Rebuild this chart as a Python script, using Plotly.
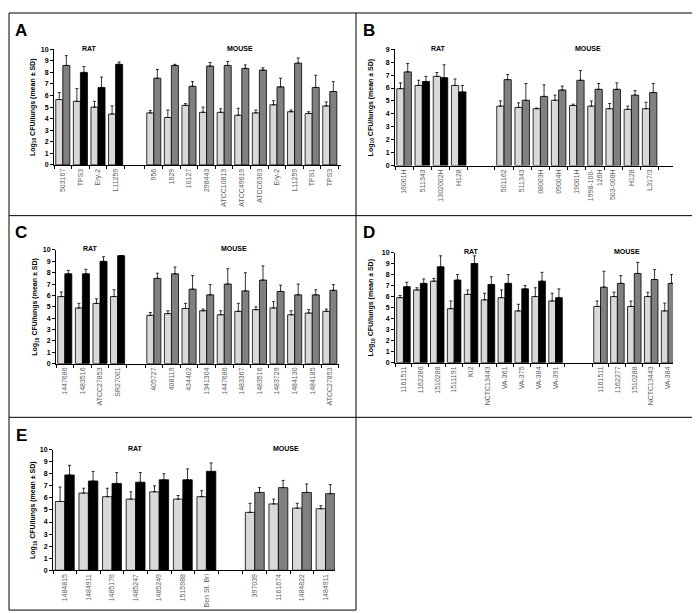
import plotly.graph_objects as go

W, H = 700, 613

# ---- panel A ----
a_rat_labels = ["503167", "TPS3", "Ery-2", "L11259"]
a_rat_light = [5.65, 5.5, 5.0, 4.4]
a_rat_light_sd = [0.6, 1.1, 0.5, 0.7]
a_rat_dark = [8.6, 8.0, 6.7, 8.7]
a_rat_dark_sd = [0.85, 0.5, 0.9, 0.2]
a_rat_dark_type = ["grey", "black", "black", "black"]
a_mouse_labels = ["956", "1629", "10127", "298443", "ATCC10813", "ATCC49619",
                  "ATCC6303", "Ery-2", "L11259", "TPS1", "TPS3"]
a_mouse_light = [4.5, 4.1, 5.15, 4.55, 4.55, 4.3, 4.5, 5.2, 4.6, 4.45, 5.1]
a_mouse_light_sd = [0.2, 0.65, 0.15, 0.45, 0.3, 0.6, 0.25, 0.35, 0.15, 0.15, 0.35]
a_mouse_dark = [7.5, 8.6, 6.8, 8.55, 8.6, 8.35, 8.2, 6.75, 8.8, 6.7, 6.35]
a_mouse_dark_sd = [0.75, 0.1, 0.4, 0.3, 0.35, 0.3, 0.2, 0.75, 0.45, 1.05, 0.85]

# ---- panel B ----
b_rat_labels = ["16001H", "511343", "1302002H", "H128"]
b_rat_light = [5.95, 6.2, 6.9, 6.2]
b_rat_light_sd = [0.45, 0.4, 0.3, 0.5]
b_rat_dark = [7.25, 6.5, 6.8, 5.7]
b_rat_dark_sd = [0.65, 0.4, 1.0, 0.5]
b_rat_dark_type = ["grey", "black", "black", "black"]
b_mouse_labels = ["501162", "511343", "08003H", "09004H", "19001H",
                  "1998-100-<br>126H", "503-008H", "H128", "L317/3"]
b_mouse_light = [4.6, 4.5, 4.4, 5.05, 4.65, 4.6, 4.4, 4.35, 4.4]
b_mouse_light_sd = [0.4, 0.35, 0.05, 0.4, 0.1, 0.4, 0.4, 0.25, 0.5]
b_mouse_dark = [6.65, 5.05, 5.35, 5.85, 6.6, 5.9, 5.9, 5.45, 5.65]
b_mouse_dark_sd = [0.4, 1.3, 0.9, 0.3, 0.75, 0.45, 0.5, 0.35, 0.7]

# ---- panel C ----
c_rat_labels = ["1447686", "1483516", "ATCC27853", "SR27001"]
c_rat_light = [5.9, 4.9, 5.3, 5.9]
c_rat_light_sd = [0.4, 0.4, 0.4, 0.6]
c_rat_dark = [7.9, 7.9, 9.0, 9.5]
c_rat_dark_sd = [0.3, 0.4, 0.4, 0.0]
c_rat_dark_type = ["black", "black", "black", "black"]
c_mouse_labels = ["405727", "408119", "434402", "1341304", "1447686", "1483367",
                  "1483516", "1483729", "1484130", "1484185", "ATCC27853"]
c_mouse_light = [4.25, 4.4, 4.85, 4.65, 4.3, 4.6, 4.75, 4.9, 4.3, 4.45, 4.6]
c_mouse_light_sd = [0.25, 0.25, 0.45, 0.15, 0.35, 0.7, 0.25, 0.55, 0.35, 0.3, 0.2]
c_mouse_dark = [7.5, 7.9, 6.55, 6.05, 7.0, 6.4, 7.35, 6.35, 6.05, 6.05, 6.45]
c_mouse_dark_sd = [0.45, 0.6, 1.2, 0.9, 1.35, 1.6, 1.25, 0.55, 0.95, 0.45, 0.5]

# ---- panel D ----
d_rat_labels = ["1161511", "1162286", "1510288", "1511191", "KI2", "NCTC13443",
                "VA-361", "VA-375", "VA-384", "VA-391"]
d_rat_light = [5.9, 6.6, 7.4, 4.9, 6.2, 5.7, 5.9, 4.7, 6.0, 5.6]
d_rat_light_sd = [0.2, 0.2, 0.25, 0.7, 0.4, 0.6, 0.7, 0.6, 0.8, 0.7]
d_rat_dark = [6.9, 7.2, 8.7, 7.5, 9.0, 7.1, 7.2, 6.7, 7.4, 5.9]
d_rat_dark_sd = [0.4, 0.4, 1.0, 0.5, 0.7, 0.7, 0.8, 0.3, 0.8, 0.8]
d_rat_dark_type = ["black"] * 10
d_mouse_labels = ["1161511", "1162277", "1510288", "NCTC13443", "VA-384"]
d_mouse_light = [5.1, 6.0, 5.1, 6.0, 4.7]
d_mouse_light_sd = [0.5, 0.4, 0.5, 0.4, 0.7]
d_mouse_dark = [6.85, 7.2, 8.1, 7.55, 7.2]
d_mouse_dark_sd = [1.45, 0.7, 1.0, 0.9, 0.8]

# ---- panel E ----
e_rat_labels = ["1484815", "1484911", "1485176", "1485247", "1485249",
                "1515988", "Ben St. Bri"]
e_rat_light = [5.7, 6.4, 6.1, 5.9, 6.5, 5.9, 6.1]
e_rat_light_sd = [1.2, 0.4, 0.7, 0.6, 0.5, 0.3, 0.5]
e_rat_dark = [7.9, 7.4, 7.2, 7.3, 7.5, 7.5, 8.2]
e_rat_dark_sd = [0.8, 0.8, 0.9, 0.8, 0.5, 0.9, 0.7]
e_rat_dark_type = ["black"] * 7
e_mouse_labels = ["397039", "1161674", "1484822", "1484911"]
e_mouse_light = [4.8, 5.5, 5.15, 5.1]
e_mouse_light_sd = [0.75, 0.4, 0.4, 0.25]
e_mouse_dark = [6.45, 6.85, 6.45, 6.35]
e_mouse_dark_sd = [0.4, 0.6, 0.7, 0.75]

LIGHT = "#d9d9d9"
COLORS = {"grey": "#808080", "black": "#000000"}
FONT = "Liberation Sans, Arial, sans-serif"

# layout of each panel in pixels (axis left/right, y bottom/top, category width ...)
panels = [
    dict(letter="A", letter_xy=(13, 19), x0=46, x1=333, unit=17.6, mouse_at=5.17,
         ybot=154.7, ytop=37.7, ymax=10, title_x=25, rat_x=81, mouse_x=232,
         data=(a_rat_labels, a_rat_light, a_rat_light_sd, a_rat_dark, a_rat_dark_sd,
               a_rat_dark_type, a_mouse_labels, a_mouse_light, a_mouse_light_sd,
               a_mouse_dark, a_mouse_dark_sd)),
    dict(letter="B", letter_xy=(361, 19), x0=387, x1=665, unit=18.2, mouse_at=5.49,
         ybot=155.3, ytop=37.7, ymax=9, title_x=363, rat_x=430, mouse_x=580,
         data=(b_rat_labels, b_rat_light, b_rat_light_sd, b_rat_dark, b_rat_dark_sd,
               b_rat_dark_type, b_mouse_labels, b_mouse_light, b_mouse_light_sd,
               b_mouse_dark, b_mouse_dark_sd)),
    dict(letter="C", letter_xy=(13, 223), x0=48, x1=331, unit=17.6, mouse_at=5.06,
         ybot=355.7, ytop=240.7, ymax=10, title_x=27, rat_x=82, mouse_x=226,
         data=(c_rat_labels, c_rat_light, c_rat_light_sd, c_rat_dark, c_rat_dark_sd,
               c_rat_dark_type, c_mouse_labels, c_mouse_light, c_mouse_light_sd,
               c_mouse_dark, c_mouse_dark_sd)),
    dict(letter="D", letter_xy=(361, 223), x0=387, x1=665, unit=16.9, mouse_at=11.66,
         ybot=354.7, ytop=243.3, ymax=10, title_x=363, rat_x=464, mouse_x=619,
         data=(d_rat_labels, d_rat_light, d_rat_light_sd, d_rat_dark, d_rat_dark_sd,
               d_rat_dark_type, d_mouse_labels, d_mouse_light, d_mouse_light_sd,
               d_mouse_dark, d_mouse_dark_sd)),
    dict(letter="E", letter_xy=(13, 428), x0=45, x1=327, unit=23.6, mouse_at=8.05,
         ybot=564.7, ytop=442.7, ymax=10, title_x=25, rat_x=127, mouse_x=278,
         data=(e_rat_labels, e_rat_light, e_rat_light_sd, e_rat_dark, e_rat_dark_sd,
               e_rat_dark_type, e_mouse_labels, e_mouse_light, e_mouse_light_sd,
               e_mouse_dark, e_mouse_dark_sd)),
]


def px(x):
    return x / W


def py(y):
    return 1 - y / H


fig = go.Figure()
annotations = []

for i, p in enumerate(panels, start=1):
    (rat_lab, rat_l, rat_lsd, rat_d, rat_dsd, rat_type,
     mou_lab, mou_l, mou_lsd, mou_d, mou_dsd) = p["data"]
    xa = "x" if i == 1 else f"x{i}"
    ya = "y" if i == 1 else f"y{i}"

    pos = list(range(len(rat_lab))) + [p["mouse_at"] + j for j in range(len(mou_lab))]
    labels = rat_lab + mou_lab
    light = rat_l + mou_l
    light_sd = rat_lsd + mou_lsd
    dark = rat_d + mou_d
    dark_sd = rat_dsd + mou_dsd
    dark_col = [COLORS[t] for t in rat_type] + [COLORS["grey"]] * len(mou_lab)

    for vals, sds, col in [(light, light_sd, LIGHT), (dark, dark_sd, dark_col)]:
        fig.add_trace(go.Bar(
            x=pos, y=vals, xaxis=xa, yaxis=ya,
            marker=dict(color=col, line=dict(color="#000000", width=0.8)),
            error_y=dict(type="data", symmetric=False, array=sds,
                         arrayminus=[0] * len(sds), color="#000000",
                         thickness=0.8, width=1.5),
            showlegend=False, hoverinfo="x+y",
        ))

    bounds = sorted({round(c + s, 3) for c in pos for s in (-0.5, 0.5)})
    x_end = -0.5 + (p["x1"] - p["x0"]) / p["unit"]

    xname = "xaxis" if i == 1 else f"xaxis{i}"
    yname = "yaxis" if i == 1 else f"yaxis{i}"
    fig.layout[xname] = dict(
        domain=[px(p["x0"]), px(p["x1"])], anchor=ya, range=[-0.5, x_end],
        showline=True, linecolor="#000000", linewidth=1,
        tickmode="array", tickvals=pos, ticktext=labels, tickangle=-90,
        ticks="", tickfont=dict(family=FONT, size=7, color="#606060"),
        minor=dict(tickmode="array", tickvals=bounds, ticks="outside",
                   ticklen=3, tickcolor="#000000", showgrid=False),
        showgrid=False, zeroline=False,
    )
    fig.layout[yname] = dict(
        domain=[py(p["ybot"]), py(p["ytop"])], anchor=xa, range=[0, p["ymax"]],
        dtick=1, tick0=0, ticks="outside", ticklen=3, tickcolor="#000000",
        showline=True, linecolor="#000000", linewidth=1,
        tickfont=dict(family=FONT, size=7, color="#000000", weight="bold"),
        showgrid=False, zeroline=False,
    )

    # panel letter
    annotations.append(dict(
        text=p["letter"], x=px(p["letter_xy"][0]), y=py(p["letter_xy"][1]),
        xref="paper", yref="paper", showarrow=False, xanchor="center", yanchor="middle",
        font=dict(family=FONT, size=17, color="#000000", weight="bold"),
    ))
    # y title
    annotations.append(dict(
        text="Log<sub>10</sub> CFU/lungs (mean ± SD)", textangle=-90,
        x=px(p["title_x"]), y=py((p["ybot"] + p["ytop"]) / 2),
        xref="paper", yref="paper", showarrow=False, xanchor="center", yanchor="middle",
        font=dict(family=FONT, size=7, color="#000000", weight="bold"),
    ))
    # group labels
    for name, gx in [("RAT", p["rat_x"]), ("MOUSE", p["mouse_x"])]:
        annotations.append(dict(
            text=name, x=px(gx), y=py(p["ytop"] - 1), xref="paper", yref="paper",
            showarrow=False, xanchor="center", yanchor="middle",
            font=dict(family=FONT, size=7, color="#000000", weight="bold"),
        ))

# panel frames
frame = [
    (1, 1, 697, 1), (1, 1, 1, 605), (1, 605, 348, 605), (348, 1, 348, 605),
    (697, 1, 697, 410), (1, 206, 697, 206), (1, 410, 697, 410),
]
shapes = [dict(type="line", xref="paper", yref="paper",
               x0=px(a), y0=py(b), x1=px(c), y1=py(d),
               line=dict(color="#000000", width=1)) for a, b, c, d in frame]

fig.update_layout(
    width=W, height=H, margin=dict(l=0, r=0, t=0, b=0),
    paper_bgcolor="white", plot_bgcolor="white",
    barmode="group", bargap=0.2, bargroupgap=0,
    annotations=annotations, shapes=shapes,
    font=dict(family=FONT),
)

fig.write_html("out.html")
